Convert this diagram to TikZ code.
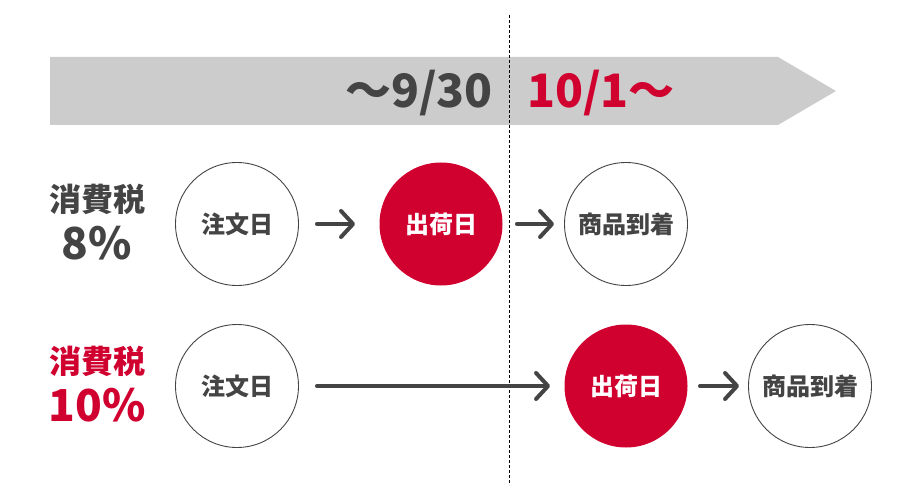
\documentclass[tikz,border=0pt]{standalone}
\usepackage{fontspec}
\setmainfont{Noto Sans CJK JP}
\usepackage{tikz}
\usetikzlibrary{positioning,arrows.meta}
\definecolor{TaxRed}{RGB}{208,0,47}
\definecolor{TaxGray}{RGB}{68,68,68}
\definecolor{BarGray}{RGB}{204,204,204}

\begin{document}
\begin{tikzpicture}[
    x=1pt, y=-1pt,
    day/.style={circle,draw=TaxGray,line width=0.9pt,fill=white,minimum size=123pt,inner sep=0pt,font=\fontsize{24}{28}\selectfont\bfseries,text=TaxGray},
    shipday/.style={day,draw=none,fill=TaxRed,text=white},
    rate/.style={font=\fontsize{32}{36}\selectfont\bfseries,text=TaxGray,inner sep=0pt},
    pct/.style={font=\fontsize{44}{48}\selectfont\bfseries,text=TaxGray,inner sep=0pt},
    date/.style={font=\fontsize{46}{50}\selectfont\bfseries,text=TaxGray,inner sep=0pt},
    arrow/.style={line width=4pt,draw=TaxGray,line cap=round,-{Straight Barb[length=12pt,width=26pt,round]}}
]
\useasboundingbox (0,0) rectangle (900,500);

\fill[BarGray] (50,57) -- (778,57) -- (836,91) -- (778,125) -- (50,125) -- cycle;
\node[date, anchor=east] (old) at (493,93) {〜9/30};
\node[date, anchor=west, text=TaxRed] (new) at (527,93) {10/1〜};

\coordinate (cuttop) at (509,15);
\coordinate (cutbot) at (509,485);
\draw[dash pattern=on 3pt off 2pt, line width=0.8pt, black] (cuttop) -- (cutbot);

\node[rate] (tax8) at (97,199) {消費税};
\node[pct, below=11pt of tax8] (rate8) {8\%};
\node[rate, text=TaxRed] (tax10) at (97,361) {消費税};
\node[pct, below=11pt of tax10, text=TaxRed] (rate10) {10\%};

\node[day] (order8) at (237,224) {注文日};
\node[shipday] (ship8) at (441,224) {出荷日};
\node[day] (arrive8) at (626,224) {商品到着};

\node[day] (order10) at (237,386) {注文日};
\node[shipday] (ship10) at (626,386) {出荷日};
\node[day] (arrive10) at (810,386) {商品到着};

\draw[arrow] ([xshift=18pt]order8.east) -- ([xshift=-24pt]ship8.west);
\draw[arrow] ([xshift=14pt]ship8.east) -- ([xshift=-10pt]arrive8.west);
\draw[arrow] ([xshift=18pt]order10.east) -- ([xshift=-14pt]ship10.west);
\draw[arrow] ([xshift=12pt]ship10.east) -- ([xshift=-9pt]arrive10.west);
\end{tikzpicture}
\end{document}
